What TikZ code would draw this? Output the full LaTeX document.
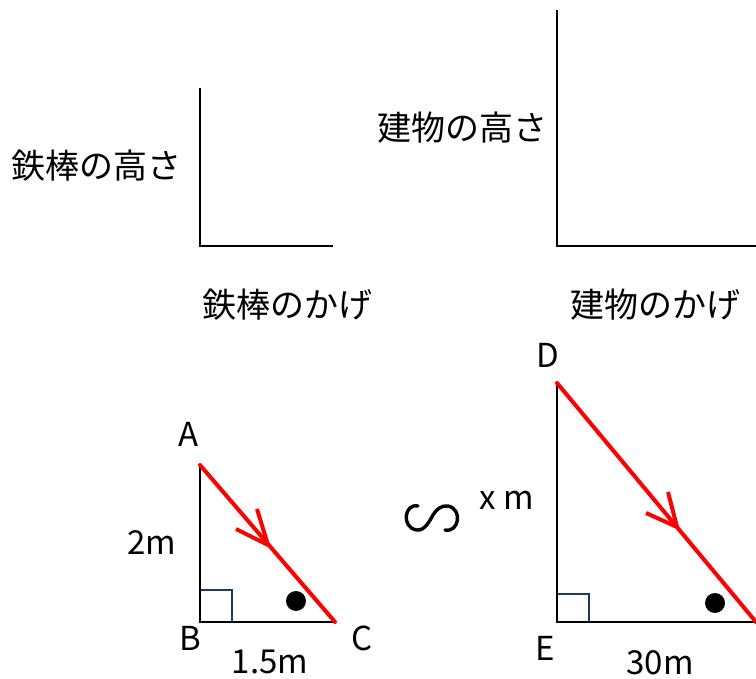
\documentclass[tikz,border=0pt]{standalone}
\usepackage{fontspec}
\setmainfont{Noto Sans CJK JP}
\definecolor{sqblue}{HTML}{203864}
\definecolor{redline}{HTML}{FF0000}
\begin{document}
\begin{tikzpicture}[x=1pt,y=-1pt,
  axis/.style={line width=2.4pt,black},
  redl/.style={line width=4pt,redline,line cap=round},
  sq/.style={line width=2pt,sqblue},
  lbl/.style={inner sep=0pt,font=\fontsize{33}{36}\selectfont},
  jlbl/.style={inner sep=0pt,font=\fontsize{34}{38}\selectfont}]
\fill[white] (0,0) rectangle (756,679);
\useasboundingbox (0,0) rectangle (756,679);
% top axes
\coordinate (t1top) at (200,88);
\coordinate (t1o) at (200,246);
\coordinate (t1r) at (333,246);
\draw[axis] (t1top) -- (t1o) -- (t1r);
\coordinate (t2top) at (557,10);
\coordinate (t2o) at (557,246);
\coordinate (t2r) at (760,246);
\draw[axis] (t2top) -- (t2o) -- (t2r);
\node[jlbl] (h1) at (97,166) {鉄棒の高さ};
\node[jlbl] (h2) at (462,128) {建物の高さ};
\node[jlbl] (s1) at (287,305) {鉄棒のかげ};
\node[jlbl] (s2) at (655,305) {建物のかげ};
% left triangle
\coordinate (A) at (200,465);
\coordinate (B) at (200,622);
\coordinate (C) at (335,622);
\draw[sq] (200,590) rectangle (232,622);
\draw[axis] (A) -- (B) -- (C);
\draw[redl] (A) -- (C);
\coordinate (tipL) at (268,545);
\coordinate (bL1) at (257,509);
\coordinate (bL2) at (236,529);
\draw[redl,line cap=butt] (bL1) -- (tipL) -- (bL2);
\fill (296,601) circle (10);
\node[lbl] (lA) at (189,434) {A};
\node[lbl] (lB) at (190,638) {B};
\node[lbl] (lC) at (362,638) {C};
\node[lbl] (l2m) at (152,543) {2m};
\node[lbl] (l15) at (270,662) {1.5m};
% similarity sign
\draw[line width=3.4pt,line cap=round] (418,506) .. controls (404,503) and (401,528) .. (417,530)
  .. controls (425,531) and (430,520) .. (433,515)
  .. controls (436,510) and (441,505) .. (448,506)
  .. controls (463,509) and (459,533) .. (445,530);
% right triangle
\coordinate (D) at (557,383);
\coordinate (E) at (557,622);
\coordinate (F) at (760,622);
\coordinate (Fr) at (756,622);
\draw[sq] (557,594) rectangle (589,622);
\draw[axis] (D) -- (E) -- (F);
\draw[redl] (D) -- (Fr);
\coordinate (tipR) at (677,527);
\coordinate (bR1) at (668,492);
\coordinate (bR2) at (646,513);
\draw[redl,line cap=butt] (bR1) -- (tipR) -- (bR2);
\fill (715,603) circle (10);
\node[lbl] (lD) at (548,355) {D};
\node[lbl] (lE) at (545,648) {E};
\node[lbl] (lx) at (507,500) {x m};
\node[lbl] (l30) at (660,663) {30m};
\end{tikzpicture}
\end{document}
